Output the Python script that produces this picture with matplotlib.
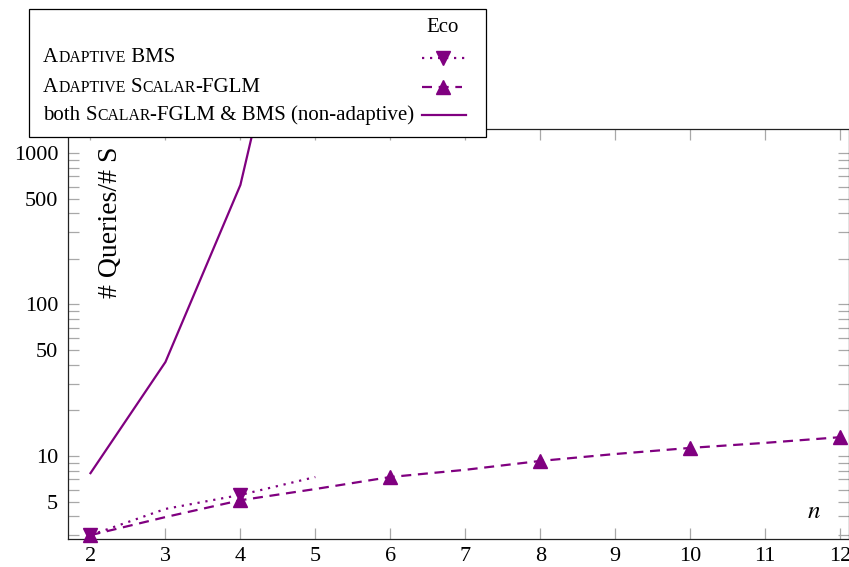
import matplotlib
matplotlib.use("Agg")
import matplotlib.pyplot as plt
from matplotlib.lines import Line2D
from matplotlib.patches import Rectangle
from matplotlib.offsetbox import TextArea, HPacker, AnnotationBbox
from matplotlib.ticker import FixedLocator, LogLocator, NullFormatter

plt.rcParams['font.family'] = ['Liberation Serif', 'DejaVu Serif']
plt.rcParams['mathtext.fontset'] = 'stix'

# data
n_bms = [2, 3, 4, 5]
q_bms = [3.0, 4.47, 5.53, 7.26]

n_fglm = [2, 3, 4, 5, 6, 7, 8, 9, 10, 11, 12]
q_fglm = [3.0, 3.95, 5.1, 6.05, 7.26, 8.1, 9.27, 10.3, 11.3, 12.2, 13.3]

n_full = [2, 3, 4, 5]
q_full = [7.7, 41.7, 615, 80000]

x_ticks = [2, 3, 4, 5, 6, 7, 8, 9, 10, 11, 12]
y_ticks = [5, 10, 50, 100, 500, 1000]

# legend rows: (capital, small-caps rest) pieces
legend_rows = [
    [("A", "DAPTIVE"), (" BMS", None)],
    [("A", "DAPTIVE"), (" ", None), ("S", "CALAR"), ("-FGLM", None)],
    [("both ", None), ("S", "CALAR"), ("-FGLM & BMS (non-adaptive)", None)],
]

purple = '#800080'
tick_gray = '#a8a8a8'

fig = plt.figure(figsize=(8.49, 5.67), dpi=100)
ax = fig.add_axes([68 / 849, 28 / 567, 781 / 849, 410 / 567])

lw = 1.6
ms = 9.5
ax.plot(n_bms, q_bms, color=purple, lw=lw, ls=(0, (1, 2.6)), marker='v',
        markersize=ms, markevery=2, clip_on=False, zorder=3)
ax.plot(n_fglm, q_fglm, color=purple, lw=lw, ls=(0, (4.5, 3)), marker='^',
        markersize=ms, markevery=2, clip_on=False, zorder=3)
ax.plot(n_full, q_full, color=purple, lw=lw, zorder=3)

ax.set_yscale('log')
ax.set_xlim(1.7, 12.12)
ax.set_ylim(2.83, 1440)

ax.xaxis.set_major_locator(FixedLocator(x_ticks))
ax.set_xticklabels([str(t) for t in x_ticks])
ax.yaxis.set_major_locator(FixedLocator(y_ticks))
ax.set_yticklabels([str(t) for t in y_ticks])
ax.yaxis.set_minor_locator(LogLocator(base=10, subs=(2, 3, 4, 6, 7, 8, 9)))
ax.yaxis.set_minor_formatter(NullFormatter())

ax.tick_params(axis='both', which='both', direction='in', length=8,
               width=0.9, color=tick_gray, labelsize=16, top=True, right=True)
ax.tick_params(axis='x', pad=6)
ax.tick_params(axis='y', pad=7)
for s in ax.spines.values():
    s.set_linewidth(0.9)
    s.set_color('#222222')

ax.text(0.054, 0.773, '# Queries/# S', transform=ax.transAxes, rotation=90,
        ha='center', va='center', fontsize=20)
ax.text(0.955, 0.065, '$n$', transform=ax.transAxes, ha='center',
        va='center', fontsize=18)

# hand-built legend box (small caps labels)
fig.add_artist(Rectangle((29 / 849, 1 - 137 / 567), 457 / 849, 128 / 567,
                         transform=fig.transFigure, facecolor='white',
                         edgecolor='black', lw=0.9, zorder=5))
fig.text(443 / 849, 1 - 28 / 567, 'Eco', ha='center', va='center',
         fontsize=15, zorder=6)

row_y = [58, 87, 115]
big, small = 15, 11.3
for pieces, yy in zip(legend_rows, row_y):
    boxes = []
    for first, rest in pieces:
        boxes.append(TextArea(first, textprops=dict(fontsize=big)))
        if rest:
            boxes.append(TextArea(rest, textprops=dict(fontsize=small)))
    pack = HPacker(children=boxes, align='baseline', pad=0, sep=0)
    ab = AnnotationBbox(pack, (43 / 849, 1 - yy / 567),
                        xycoords='figure fraction', box_alignment=(0, 0.5),
                        frameon=False, zorder=6)
    fig.add_artist(ab)

handles = [((0, (1, 2.6)), 'v', 422, 467),
           ((0, (4.5, 3)), '^', 422, 462),
           ('-', None, 422, 466)]
for (ls, mk, x0, x1), yy in zip(handles, row_y):
    y = 1 - yy / 567
    fig.add_artist(Line2D([x0 / 849, x1 / 849], [y, y], color=purple, lw=lw,
                          ls=ls, transform=fig.transFigure, zorder=6))
    if mk:
        fig.add_artist(Line2D([443 / 849], [y], color=purple, marker=mk,
                              markersize=ms, ls='none',
                              transform=fig.transFigure, zorder=7))

fig.savefig('out.png', dpi=100)
